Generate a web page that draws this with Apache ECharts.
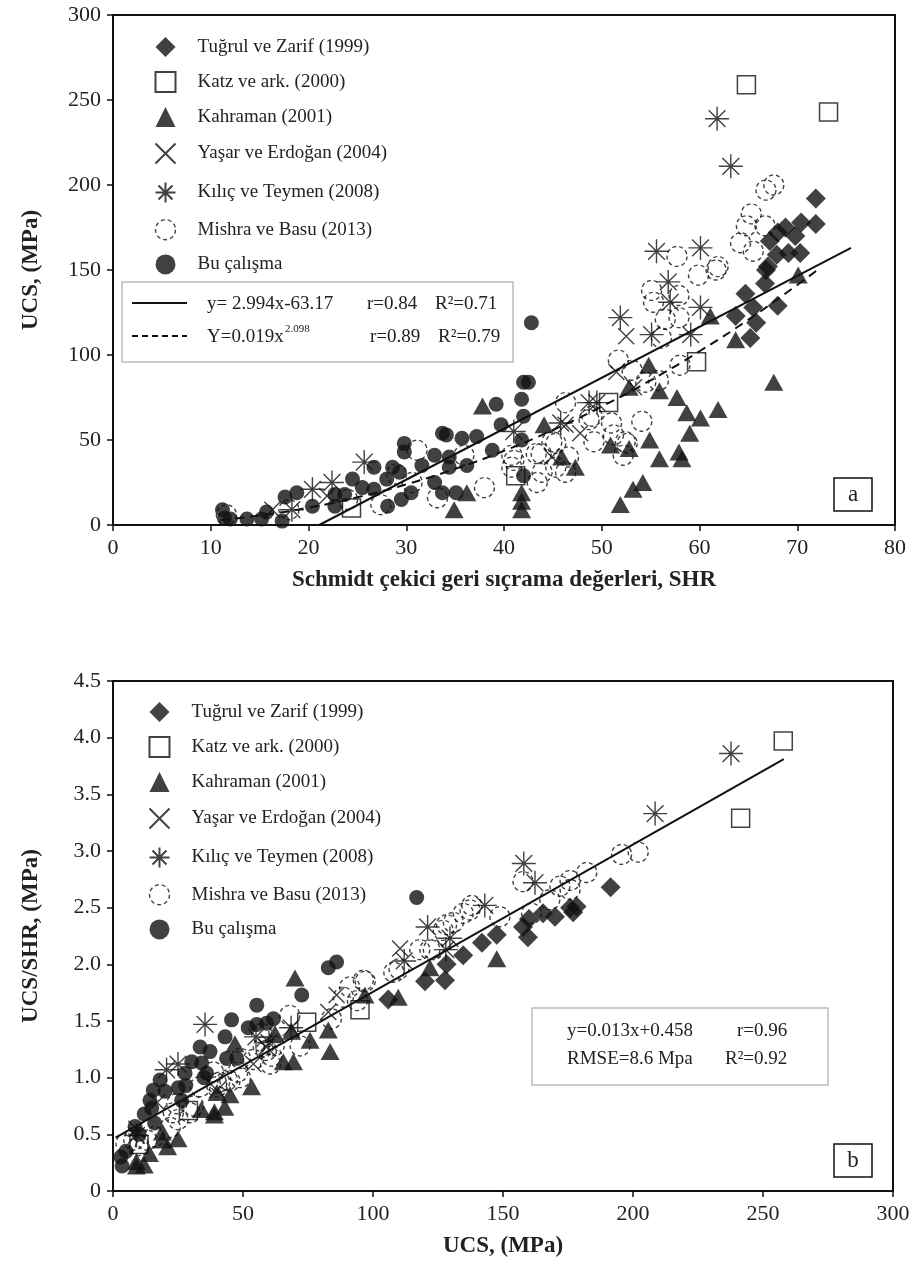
<!DOCTYPE html>
<html>
<head>
<meta charset="utf-8">
<script src="https://cdn.jsdelivr.net/npm/echarts@6/dist/echarts.min.js"></script>
<style>
  html, body { margin: 0; padding: 0; background: #fff; }
  #main { width: 916px; height: 1283px; }
</style>
</head>
<body>
<div id="main"></div>
<script>
const FONT = '"Liberation Serif", "DejaVu Serif", serif';

const seriesNames = ['Tuğrul ve Zarif (1999)', 'Katz ve ark. (2000)', 'Kahraman (2001)',
  'Yaşar ve Erdoğan (2004)', 'Kılıç ve Teymen (2008)', 'Mishra ve Basu (2013)', 'Bu çalışma'];

// panel a : [SHR, UCS]
const tugrulA = [[71.9,192],[68.8,175],[70.4,178],[71.9,177],[68,172],[69.8,170],[67.2,167],[67.9,159],
  [69.1,160],[70.3,160],[67,152],[64.7,136],[66.7,142],[66.8,150],[63.7,123],[65.2,110],[65.8,119],[68,129],[65.5,128]];
const katzA = [[64.8,259],[73.2,243],[59.7,96],[50.7,72],[41.2,29],[24.4,10]];
const kahramanA = [[37.8,70],[44.1,59],[36.2,19],[34.9,9],[41.8,19],[41.8,14],[41.8,9],[45.9,40],[47.3,34],
  [50.9,47],[52.8,45],[51.9,12],[53.2,21],[54.2,25],[52.8,81],[54.8,94],[55.9,79],[54.9,50],[55.9,39],
  [57.7,75],[58.7,66],[60.1,63],[59,54],[57.9,43],[58.2,39],[61.9,68],[61.1,123],[63.7,109],[67.6,84],[70.1,147]];
const yasarA = [[52.5,111],[51.5,90],[53.3,81],[46.3,59],[47.8,54],[44.9,40],[16.3,9],[21.9,17]];
const kilicA = [[61.8,239],[63.2,211],[55.6,161],[60.1,163],[56.8,143],[57,131],[51.9,122],[55.1,112],
  [59.1,112],[60.1,128],[48.7,72],[49.5,72],[45.8,60],[41,55],[25.7,37],[22.4,25],[20.4,21],[18.3,9]];
const mishraA = [[66.8,197],[67.6,200],[65.3,183],[64.8,176],[66.7,176],[64.2,166],[65.5,161],[57.7,158],
  [61.9,152],[59.9,147],[55.1,138],[57.9,135],[55.3,131],[61.7,150],[56.5,121],[57.9,122],[56.1,110],
  [51.7,97],[53.1,91],[54.5,84],[55.8,85],[58,94],[46.3,72],[48.7,62],[51,60],[54.1,61],[49.2,49],
  [51.2,53],[52.4,49],[52.2,41],[44.9,49],[43.8,42],[46.6,40],[45.3,34],[46.3,31],[43.4,25],[41,38],
  [40.8,34],[38,22],[33.2,16],[43.3,42],[45.3,48],[49,64],[52.6,48],[43.9,31],[31.1,44],[30.6,25],
  [27.4,12],[35.9,41],[40.8,41],[11.6,6],[18,9],[24,15],[29,30]];
const buA = [[11.2,9],[11.4,4],[12,3.5],[13.7,3.5],[15.2,3.5],[15.7,7.6],[17.3,2.3],[17.6,16.5],[18.8,19],
  [20.4,11],[22.7,18],[22.7,11],[23.7,18],[24.5,27],[25.5,22],[26.7,34],[26.7,21],[28,27],[28.1,11],
  [28.6,34],[29.3,31],[29.8,48],[29.8,43],[29.5,15],[30.5,19],[31.6,35],[32.9,41],[32.9,25],[33.7,54],
  [34.1,53],[35.7,51],[37.2,52],[39.2,71],[39.7,59],[42,84],[41.8,74],[42,64],[41.8,50],[42,29],
  [38.8,44],[36.2,35],[34.4,40],[34.4,34],[33.7,19],[35.1,19],[42.8,119],[42.5,84]];

// panel b : [UCS, UCS/SHR]
const tugrulB = [[191.4,2.68],[165.4,2.45],[170,2.42],[177,2.46],[157.7,2.33],[159.6,2.24],[147.6,2.26],
  [141.9,2.19],[134.7,2.08],[128.3,2.0],[127.7,1.86],[120,1.85],[105.9,1.69],[175.8,2.5],[178.3,2.51],[160,2.4]];
const katzB = [[257.8,3.97],[241.4,3.29],[95,1.6],[74.5,1.49],[29,0.71],[10,0.41]];
const kahramanB = [[147.6,2.05],[121.9,1.97],[109.7,1.71],[96.9,1.73],[70,1.88],[83.5,1.23],[68.7,1.41],
  [75.8,1.33],[82.8,1.42],[62.3,1.39],[65.5,1.14],[69.4,1.14],[46.9,1.3],[53.3,0.92],[45,0.85],
  [40,0.87],[34,0.72],[39,0.7],[43,0.74],[39,0.67],[25,0.46],[21,0.39],[19,0.52],[19,0.45],[14,0.33],
  [12,0.23],[9,0.26],[9,0.22]];
const yasarB = [[110.4,2.14],[86,1.73],[82.8,1.58],[59,1.27],[54,1.12],[40,0.89],[9,0.55],[17,0.78]];
const kilicB = [[237.7,3.86],[208.5,3.33],[158,2.89],[162.3,2.72],[143,2.52],[121,2.33],[129.6,2.23],
  [112,2.03],[128,2.13],[68.5,1.44],[55,1.36],[60,1.31],[35.4,1.47],[25,1.12],[20.6,1.07],[9,0.49]];
const mishraB = [[195.6,2.97],[202,2.99],[157.7,2.73],[175.8,2.74],[182.2,2.81],[175.8,2.66],[168,2.57],
  [161,2.45],[138,2.52],[130.9,2.37],[148.8,2.42],[128.3,2.35],[134.7,2.45],[171.9,2.69],[137.3,2.48],
  [121.9,2.13],[127,2.3],[118,2.13],[123.2,2.13],[110,1.96],[108,1.93],[97,1.85],[91,1.8],[96.3,1.86],
  [88.6,1.71],[68,1.55],[57.8,1.27],[54,1.16],[57.2,1.39],[38.6,1.05],[33.5,0.92],[39.9,0.95],[24.5,0.77],
  [23.2,0.69],[29.6,0.69],[49,1.0],[45,0.97],[40,0.92],[31,0.75],[25,0.63],[22,0.56],[16,0.48],[41,0.96],
  [44,0.98],[13,0.45],[10,0.4],[5,0.42],[8,0.45],[59,1.24],[62,1.28],[60.6,1.12],[61,1.19],[49,1.17],
  [48,1.05],[72,1.28],[84,1.52],[94,1.68]];
const buB = [[116.8,2.59],[82.8,1.97],[86,2.02],[72.6,1.73],[55.3,1.64],[45.6,1.51],[52,1.44],[55.3,1.47],
  [59.1,1.48],[61.7,1.52],[43.1,1.36],[33.5,1.27],[37.3,1.23],[30.3,1.14],[34.1,1.13],[43.7,1.17],[47.6,1.17],
  [27.7,1.04],[36,1.04],[18.1,0.98],[25.1,0.91],[15.5,0.89],[14.2,0.8],[26.4,0.8],[14.9,0.73],[8.5,0.57],
  [3,0.3],[3.5,0.22],[5,0.35],[10,0.5],[16,0.6],[12,0.68],[20,0.88],[28,0.93],[35,1.0]];

// fit lines
const linearFitA = [[21.1,0],[75.5,163]];
const powerFitA = [[11,2.9],[15,5.6],[20,10.2],[25,16.3],[30,23.9],[35,33],[40,43.6],[45,55.9],
  [50,69.7],[55,85.1],[60,102.2],[65,120.8],[70,141.2],[72,149.7]];
const linearFitB = [[1,0.47],[258,3.81]];

const dataA = [tugrulA, katzA, kahramanA, yasarA, kilicA, mishraA, buA];
const dataB = [tugrulB, katzB, kahramanB, yasarB, kilicB, mishraB, buB];

const INK = '#111';
const markStyle = [
  { symbol: 'diamond', symbolSize: 20, itemStyle: { color: INK } },
  { symbol: 'rect', symbolSize: 18, itemStyle: { color: 'rgba(255,255,255,0)', borderColor: INK, borderWidth: 1.5 } },
  { symbol: 'triangle', symbolSize: [19, 17], itemStyle: { color: INK } },
  { symbol: 'path://M0,0L10,10M10,0L0,10', symbolSize: 16,
    itemStyle: { color: 'none', borderColor: INK, borderWidth: 1.4 } },
  { symbol: 'path://M5,0L5,10M0,5L10,5M1.5,1.5L8.5,8.5M8.5,1.5L1.5,8.5', symbolSize: 24,
    itemStyle: { color: 'none', borderColor: INK, borderWidth: 1.4 } },
  { symbol: 'circle', symbolSize: 20,
    itemStyle: { color: 'rgba(255,255,255,0)', borderColor: INK, borderWidth: 1.4, borderType: [4, 3] } },
  { symbol: 'circle', symbolSize: 15, itemStyle: { color: INK } }
];

const series = [];
[dataA, dataB].forEach((set, g) => {
  set.forEach((pts, i) => {
    series.push(Object.assign({
      name: seriesNames[i], type: 'scatter', xAxisIndex: g, yAxisIndex: g,
      data: pts, silent: true, emphasis: { disabled: true }, z: 3
    }, markStyle[i]));
  });
});
series.push({ type: 'line', xAxisIndex: 0, yAxisIndex: 0, data: linearFitA, showSymbol: false,
  silent: true, z: 4, lineStyle: { color: INK, width: 2 } });
series.push({ type: 'line', xAxisIndex: 0, yAxisIndex: 0, data: powerFitA, showSymbol: false,
  silent: true, z: 4, smooth: true, lineStyle: { color: INK, width: 2, type: [9, 6] } });
series.push({ type: 'line', xAxisIndex: 1, yAxisIndex: 1, data: linearFitB, showSymbol: false,
  silent: true, z: 4, lineStyle: { color: INK, width: 2 } });

function axisCommon(extra) {
  return Object.assign({
    axisLine: { onZero: false, lineStyle: { color: INK, width: 2 } },
    axisTick: { inside: false, length: 6, lineStyle: { color: INK, width: 1.5 } },
    splitLine: { show: false },
    axisLabel: { fontFamily: FONT, fontSize: 22, color: '#222', margin: 12 },
    nameLocation: 'middle',
    nameTextStyle: { fontFamily: FONT, fontSize: 23, fontWeight: 'bold', color: '#222' }
  }, extra);
}

// legend items; the dashed circle needs its border type set on the item itself
const legendItems = seriesNames.map((n, i) => i === 5
  ? { name: n, itemStyle: { color: 'rgba(255,255,255,0)', borderColor: INK, borderWidth: 1.4, borderType: [4, 3] } }
  : { name: n });

const legendBase = {
  orient: 'vertical', selectedMode: false, itemWidth: 20, itemHeight: 20, itemGap: 14,
  data: legendItems,
  textStyle: { fontFamily: FONT, fontSize: 19, color: '#222', padding: [0, 0, 0, 17] }
};

const eqFont = '19px ' + FONT;
function txt(x, y, s, font, align) {
  return { type: 'text', x: x, y: y, z: 10, style: { text: s, font: font || eqFont, fill: '#222',
    textVerticalAlign: 'middle', textAlign: align || 'left' } };
}

const chart = echarts.init(document.getElementById('main'));
chart.setOption({
  animation: false,
  backgroundColor: '#fff',
  grid: [
    { left: 113, top: 15, width: 782, height: 510, show: true, borderColor: INK, borderWidth: 2 },
    { left: 113, top: 681, width: 780, height: 510, show: true, borderColor: INK, borderWidth: 2 }
  ],
  xAxis: [
    axisCommon({ gridIndex: 0, type: 'value', min: 0, max: 80, interval: 10,
      name: 'Schmidt çekici geri sıçrama değerleri, SHR', nameGap: 44 }),
    axisCommon({ gridIndex: 1, type: 'value', min: 0, max: 300, interval: 50,
      name: 'UCS, (MPa)', nameGap: 44 })
  ],
  yAxis: [
    axisCommon({ gridIndex: 0, type: 'value', min: 0, max: 300, interval: 50,
      name: 'UCS, (MPa)', nameGap: 70 }),
    axisCommon({ gridIndex: 1, type: 'value', min: 0, max: 4.5, interval: 0.5,
      name: 'UCS/SHR, (MPa)', nameGap: 70,
      axisLabel: { fontFamily: FONT, fontSize: 22, color: '#222', margin: 12,
        formatter: v => v === 0 ? '0' : v.toFixed(1) } })
  ],
  legend: [
    Object.assign({}, legendBase, { left: 148, top: 32 }),
    Object.assign({}, legendBase, { left: 142, top: 697 })
  ],
  series: series,
  graphic: [
    // panel a equation box
    { type: 'rect', z: 9, shape: { x: 122, y: 282, width: 391, height: 80 },
      style: { fill: '#fff', stroke: '#bbb', lineWidth: 1.5 } },
    { type: 'line', z: 10, shape: { x1: 132, y1: 303, x2: 187, y2: 303 }, style: { stroke: INK, lineWidth: 2 } },
    { type: 'line', z: 10, shape: { x1: 132, y1: 336, x2: 187, y2: 336 },
      style: { stroke: INK, lineWidth: 2, lineDash: [6, 4] } },
    txt(207, 304, 'y= 2.994x-63.17'), txt(367, 304, 'r=0.84'), txt(435, 304, 'R²=0.71'),
    txt(207, 337, 'Y=0.019x'), txt(285, 329, '2.098', '11px ' + FONT),
    txt(370, 337, 'r=0.89'), txt(438, 337, 'R²=0.79'),
    // panel a tag
    { type: 'rect', z: 9, shape: { x: 834, y: 478, width: 38, height: 33 },
      style: { fill: '#fff', stroke: INK, lineWidth: 1.5 } },
    txt(853, 495, 'a', '23px ' + FONT, 'center'),
    // panel b equation box
    { type: 'rect', z: 9, shape: { x: 532, y: 1008, width: 296, height: 77 },
      style: { fill: '#fff', stroke: '#bbb', lineWidth: 1.5 } },
    txt(567, 1031, 'y=0.013x+0.458'), txt(737, 1031, 'r=0.96'),
    txt(567, 1059, 'RMSE=8.6 Mpa'), txt(725, 1059, 'R²=0.92'),
    // panel b tag
    { type: 'rect', z: 9, shape: { x: 834, y: 1144, width: 38, height: 33 },
      style: { fill: '#fff', stroke: INK, lineWidth: 1.5 } },
    txt(853, 1161, 'b', '23px ' + FONT, 'center')
  ]
});
</script>
</body>
</html>
